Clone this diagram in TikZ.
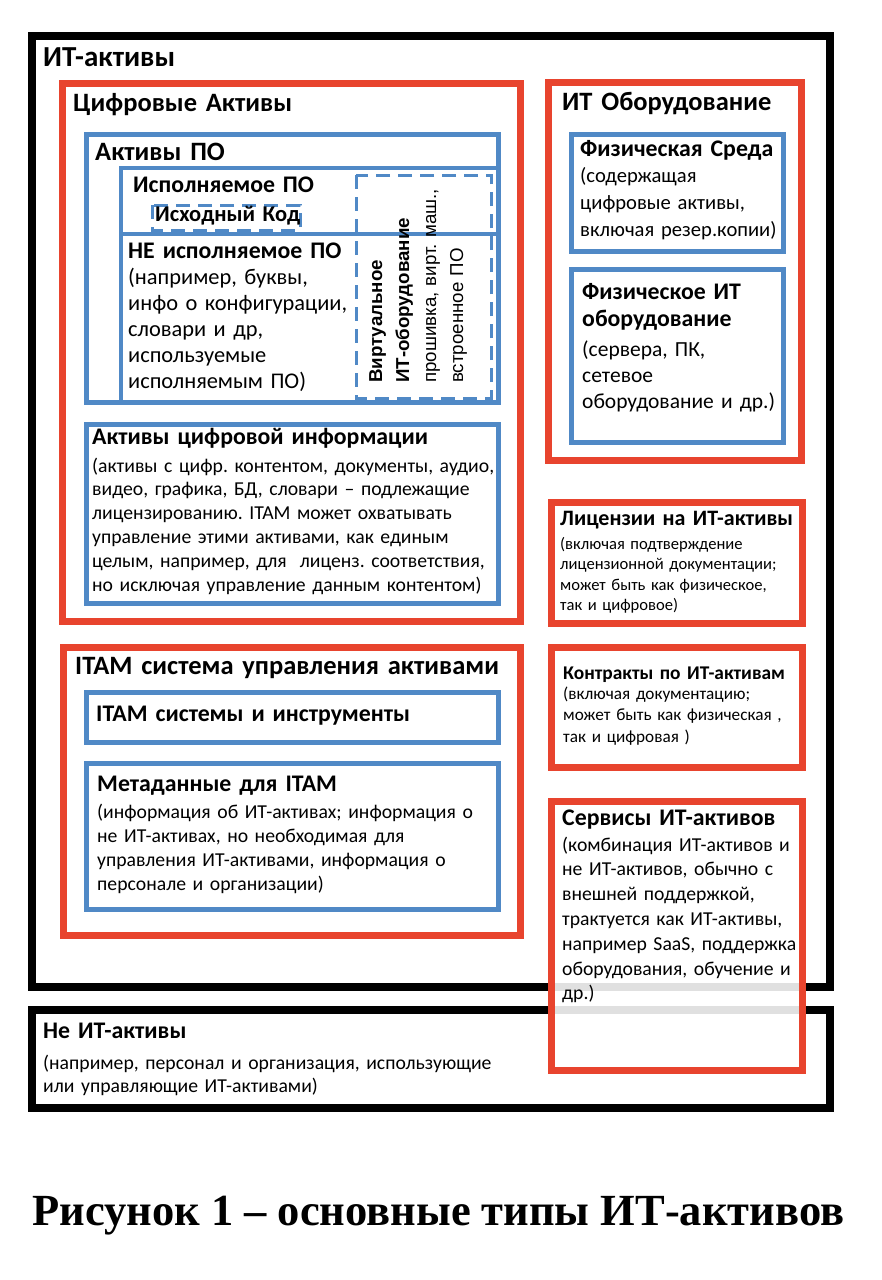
\documentclass[tikz,border=0pt]{standalone}
\usepackage{fontspec}
\setmainfont{Carlito}
\newfontfamily\arialfont{Liberation Sans}
\newfontfamily\timesfont{Liberation Serif}
\definecolor{itred}{RGB}{232,68,46}
\definecolor{itblue}{RGB}{80,137,198}
\frenchspacing

\begin{document}
\begin{tikzpicture}[
    x=1pt, y=-1pt,
    blackbox/.style={draw=black, line width=8pt},
    redbox/.style={draw=itred, line width=7pt},
    bluebox/.style={draw=itblue, line width=5pt},
    dashbox/.style={draw=itblue, line width=3pt, dash pattern=on 14pt off 8pt},
    txt/.style={anchor=base west, inner sep=0pt, align=left, text width=470pt},
    bighead/.style={txt, font=\fontsize{26.5}{31}\selectfont\bfseries},
    head/.style={txt, font=\fontsize{#1}{27}\selectfont\bfseries},
    head/.default=23.8,
    bodytext/.style={txt, font=\fontsize{19.7}{#1}\selectfont},
    bodytext/.default=24,
    captiontext/.style={anchor=base west, inner sep=0pt, font=\timesfont\fontsize{44.5}{50}\selectfont\bfseries}
]
\useasboundingbox (0,0) rectangle (882,1280);

% Boxes
\draw[blackbox] (32,36) rectangle (830,987);
\draw[blackbox] (32,1010) rectangle (830,1108);

\draw[redbox] (62,83) rectangle (520,621);
\draw[bluebox] (86,134) rectangle (498,402);
\draw[itblue, line width=4pt] (121,402) -- (121,168) -- (498,168);
\draw[itblue, line width=4pt] (121,234) -- (498,234);
\draw[dashbox] (152,205) rectangle (300,230);
\draw[dashbox] (356,175) rectangle (491,398);
\draw[bluebox] (86,424) rectangle (498,603);

\draw[redbox] (63,647) rectangle (520,935);
\draw[bluebox] (86,692) rectangle (498,742);
\draw[bluebox] (86,763) rectangle (498,909);

\draw[redbox] (548,82) rectangle (801,460);
\draw[bluebox] (571,134) rectangle (783,251);
\draw[bluebox] (571,269) rectangle (783,442);
\draw[redbox] (551,502) rectangle (802,623);
\draw[redbox] (551,647) rectangle (802,767);
\draw[redbox, fill=white, fill opacity=0.88] (551,801) rectangle (802,1070);

% Nodes
\node[bighead, font=\fontsize{29}{34}\selectfont\bfseries] (itassets) at (43,66) {ИТ-активы};
\node[bighead] (digital) at (73,111) {Цифровые Активы};
\node[bighead] (software) at (95,160) {Активы ПО};
\node[head] (exec) at (133,192) {Исполняемое ПО};
\node[head=22.5] (source) at (155,221) {Исходный Код};
\node[head] (nonexec) at (128,258) {НЕ исполняемое ПО};
\node[txt, font=\fontsize{22.4}{26}\selectfont] (nonexec-text) at (128,284)
    {(например, буквы,\\инфо о конфигурации,\\словари и др,\\используемые\\исполняемым ПО)};
\node[txt, rotate=90, font=\arialfont\fontsize{18.7}{27}\selectfont] (virtual) at (382,383)
    {\textbf{Виртуальное}\\\textbf{ИТ-оборудование}\\прошивка, вирт. маш.,\\встроенное ПО};

\node[head] (info) at (92,444) {Активы цифровой информации};
\node[bodytext=23.8] (info-text) at (92,472)
    {(активы с цифр. контентом, документы, аудио,\\видео, графика, БД, словари -- подлежащие\\лицензированию. ITAM может охватывать\\управление этими активами, как единым\\целым, например, для~ лиценз. соответствия,\\но исключая управление данным контентом)};

\node[bighead] (itam) at (75,674) {ITAM система управления активами};
\node[head] (tools) at (96,721) {ITAM системы и инструменты};
\node[head] (meta) at (97,791) {Метаданные для ITAM};
\node[bodytext=24] (meta-text) at (97,818)
    {(информация об ИТ-активах; информация о\\не ИТ-активах, но необходимая для\\управления ИТ-активами, информация о\\персонале и организации)};

\node[bighead] (hardware) at (562,110) {ИТ Оборудование};
\node[head] (media) at (580,156) {Физическая Среда};
\node[txt, font=\fontsize{20.6}{27}\selectfont] (media-text) at (580,182)
    {(содержащая\\цифровые активы,\\включая резер.копии)};
\node[head] (physical) at (582,299) {Физическое ИТ\\оборудование};
\node[txt, font=\fontsize{21.5}{26}\selectfont] (physical-text) at (582,356)
    {(сервера, ПК,\\сетевое\\оборудование и др.)};

\node[head=22] (licenses) at (560,525) {Лицензии на ИТ-активы};
\node[txt, font=\fontsize{16.6}{20.5}\selectfont] (licenses-text) at (560,549)
    {(включая подтверждение\\лицензионной документации;\\может быть как физическое,\\так и цифровое)};
\node[head=19.4] (contracts) at (563,679) {Контракты по ИТ-активам};
\node[txt, font=\fontsize{17.2}{21.5}\selectfont] (contracts-text) at (563,699)
    {(включая документацию;\\может быть как физическая ,\\так и цифровая )};
\node[head] (services) at (562,825) {Сервисы ИТ-активов};
\node[bodytext=24.8] (services-text) at (562,851)
    {(комбинация ИТ-активов и\\не ИТ-активов, обычно с\\внешней поддержкой,\\трактуется как ИТ-активы,\\например SaaS, поддержка\\оборудования, обучение и\\др.)};

\node[head] (nonit) at (43,1038) {Не ИТ-активы};
\node[bodytext=23] (nonit-text) at (43,1069)
    {(например, персонал и организация, использующие\\или управляющие ИТ-активами)};

\node[captiontext] (caption) at (32,1225) {Рисунок 1 – основные типы ИТ-активов};

\end{tikzpicture}
\end{document}
